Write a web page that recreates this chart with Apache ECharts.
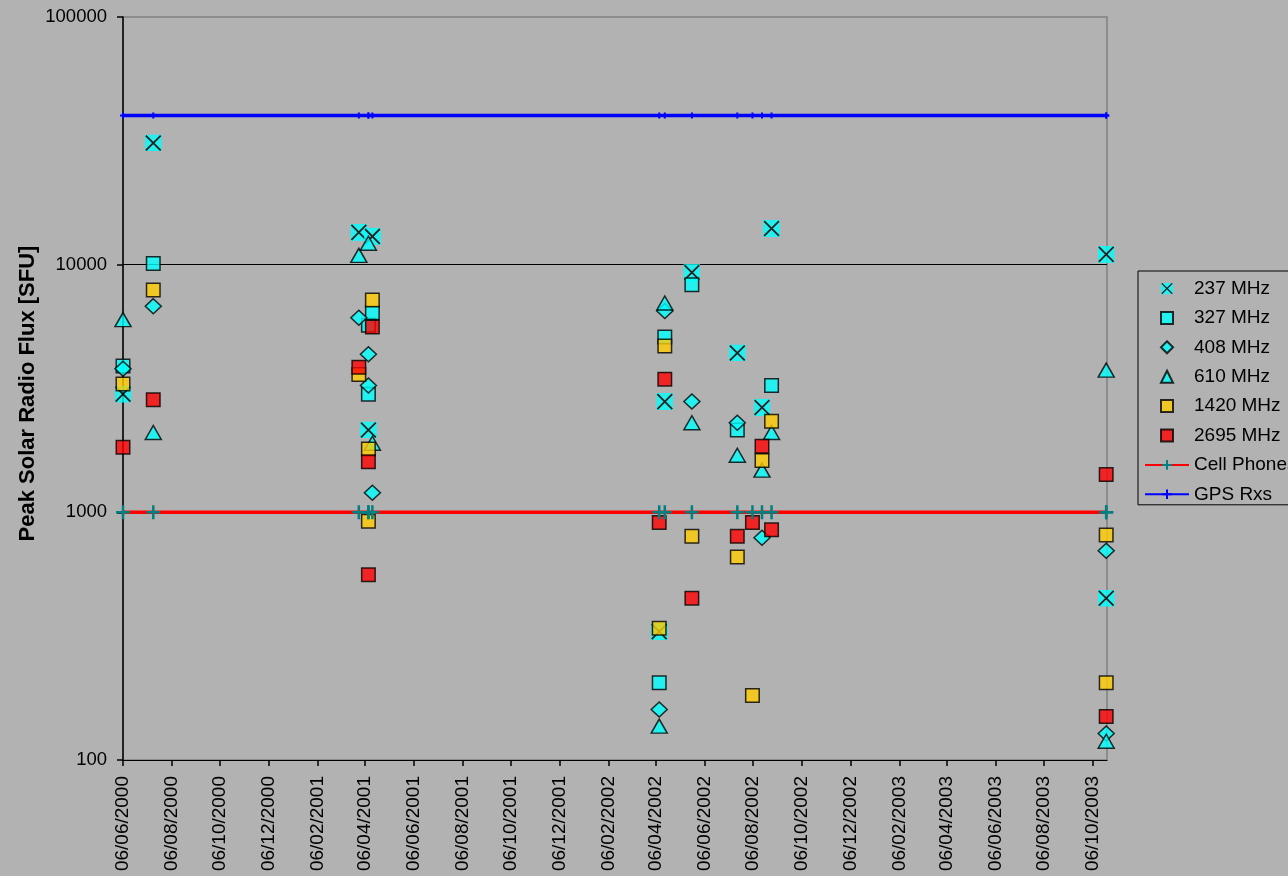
<!DOCTYPE html>
<html><head><meta charset="utf-8">
<script src="https://cdn.jsdelivr.net/npm/echarts@6/dist/echarts.min.js"></script>
<style>html,body{margin:0;padding:0;background:#b2b2b2;}#c{width:1288px;height:876px;}</style>
</head><body><div id="c"></div>
<script>
// ---- data (dd/mm/yyyy) ----
const eventDates = ['06/06/2000','14/07/2000','29/03/2001','10/04/2001','10/04/2001','15/04/2001','10/04/2002','17/04/2002','21/05/2002','17/07/2002','05/08/2002','17/08/2002','29/08/2002','23/10/2003','23/10/2003'];
const mhz237  = [3000, 31000, 13500, 2150, null, 13000, 330, 2800, 9300, 4400, null, 2650, 14000, 11000, 450];
const mhz327  = [3900, 10100, null, 3000, 5700, 6400, 205, 5100, 8300, 2150, null, null, 3250, null, null];
const mhz408  = [3800, 6800, 6100, 3250, 4350, 1200, 160, 6500, 2800, 2300, null, 790, null, 700, 128];
const mhz610  = [6000, 2100, 10900, 12200, null, 1900, 137, 7000, 2300, 1700, null, 1480, 2100, 3750, 119];
const mhz1420 = [3300, 7900, 3600, 1800, 920, 7200, 340, 4700, 800, 660, 182, 1620, 2330, 810, 205];
const mhz2695 = [1830, 2850, 3850, 1600, 560, 5600, 910, 3450, 450, 800, 910, 1850, 850, 1420, 150];
const cellPhones = [1000, 1000, 1000, 1000, 1000, 1000, 1000, 1000, 1000, 1000, 1000, 1000, 1000, 1000, 1000];
const gpsRxs = [40000, 40000, 40000, 40000, 40000, 40000, 40000, 40000, 40000, 40000, 40000, 40000, 40000, 40000, 40000];
const xTickLabels = ['06/06/2000','06/08/2000','06/10/2000','06/12/2000','06/02/2001','06/04/2001','06/06/2001','06/08/2001','06/10/2001','06/12/2001','06/02/2002','06/04/2002','06/06/2002','06/08/2002','06/10/2002','06/12/2002','06/02/2003','06/04/2003','06/06/2003','06/08/2003','06/10/2003'];
const yTickLabels = [100, 1000, 10000, 100000];
const xRange = ['06/06/2000', '24/10/2003'];

// ---- helpers ----
const FONT = '"Liberation Sans", Arial, sans-serif';
const DAY = 86400000;
function parseDate(s) { const p = s.split('/').map(Number); return Date.UTC(p[2], p[1] - 1, p[0]); }
const T0 = parseDate(xRange[0]);
function dayNum(s) { return Math.round((parseDate(s) - T0) / DAY); }
function pad(n) { return (n < 10 ? '0' : '') + n; }
function fmtDay(v) { const d = new Date(T0 + Math.round(v) * DAY); return pad(d.getUTCDate()) + '/' + pad(d.getUTCMonth() + 1) + '/' + d.getUTCFullYear(); }
function pairs(arr) { const out = []; eventDates.forEach((d, i) => { if (arr[i] != null) out.push([dayNum(d), arr[i]]); }); return out; }
const tickDays = xTickLabels.map(dayNum);

const svgX = "<svg xmlns='http://www.w3.org/2000/svg' width='32' height='32' viewBox='0 0 32 32'><rect x='0' y='0' width='32' height='32' fill='#00FFFF'/><path d='M2,2L30,30M30,2L2,30' stroke='#000' stroke-width='3.4'/></svg>";
const imgX = 'image://data:image/svg+xml;charset=utf-8,' + encodeURIComponent(svgX);
const SQ = 'path://M0,0H10V10H0Z';
const DIA = 'path://M5,0L10,5L5,10L0,5Z';
const TRI = 'path://M5,0L10,10L0,10Z';
const PLUS = 'path://M0,-1L0,1M-1,0L1,0';

const border = { borderColor: '#000', borderWidth: 1.5 };
function scatter(name, arr, symbol, size, color, extra) {
  return Object.assign({
    name, type: 'scatter', data: pairs(arr), symbol, symbolSize: size,
    itemStyle: Object.assign({ color }, border), emphasis: { disabled: true }
  }, extra || {});
}

const chart = echarts.init(document.getElementById('c'), null, { renderer: 'canvas' });
chart.setOption({
  animation: false,
  backgroundColor: '#b2b2b2',
  textStyle: { fontFamily: FONT },
  grid: { left: 123, right: 181, top: 17, bottom: 116, show: true, borderColor: '#808080', borderWidth: 1.5, backgroundColor: 'transparent' },
  xAxis: {
    type: 'value', min: 0, max: dayNum(xRange[1]),
    axisLine: { lineStyle: { color: '#000', width: 1 } },
    axisTick: { show: true, length: 6, lineStyle: { color: '#000', width: 1.5 }, customValues: tickDays },
    axisLabel: { rotate: 90, margin: 16, fontSize: 19, color: '#000', fontFamily: FONT,
      customValues: tickDays, formatter: v => fmtDay(v), hideOverlap: false },
    splitLine: { show: false }
  },
  yAxis: {
    type: 'log', logBase: 10, min: yTickLabels[0], max: yTickLabels[yTickLabels.length - 1],
    name: 'Peak Solar Radio Flux [SFU]', nameLocation: 'middle', nameGap: 84, nameRotate: 90,
    nameMoveOverlap: false,
    nameTextStyle: { fontWeight: 'bold', fontSize: 22, color: '#000', fontFamily: FONT, padding: [0, 10, 0, 0] },
    axisLine: { show: true, lineStyle: { color: '#000', width: 1.5 } },
    axisTick: { show: true, length: 6, lineStyle: { color: '#000', width: 1.5 } },
    axisLabel: { margin: 16, fontSize: 18.5, color: '#000', fontFamily: FONT, formatter: v => String(Math.round(v)) },
    splitLine: { show: true, showMinLine: false, showMaxLine: false, lineStyle: { color: '#000', width: 1 } },
    minorTick: { show: false }
  },
  legend: {
    orient: 'vertical', left: 1138, top: 271, padding: [8, 6, 1, 6],
    borderColor: '#000', borderWidth: 1, backgroundColor: 'transparent',
    itemWidth: 44, itemHeight: 12, itemGap: 10.4, selectedMode: false,
    textStyle: { fontSize: 19, color: '#000', fontFamily: FONT, lineHeight: 19 },
    data: [
      { name: '237 MHz', icon: imgX },
      { name: '327 MHz', icon: SQ },
      { name: '408 MHz', icon: DIA },
      { name: '610 MHz', icon: TRI },
      { name: '1420 MHz', icon: SQ },
      { name: '2695 MHz', icon: SQ },
      { name: 'Cell Phones' },
      { name: 'GPS Rxs' }
    ]
  },
  series: [
    scatter('237 MHz', mhz237, imgX, 17, '#00FFFF', { itemStyle: { color: '#00FFFF' } }),
    scatter('327 MHz', mhz327, 'rect', 13.5, '#00FFFF'),
    scatter('408 MHz', mhz408, 'diamond', [16, 15], '#00FFFF'),
    scatter('610 MHz', mhz610, 'triangle', [16, 14], '#00FFFF'),
    scatter('1420 MHz', mhz1420, 'rect', 13.5, '#FFCC00'),
    scatter('2695 MHz', mhz2695, 'rect', 13.5, '#FF0000'),
    {
      name: 'Cell Phones', type: 'line', data: pairs(cellPhones),
      symbol: PLUS, symbolSize: 14, showSymbol: true,
      lineStyle: { color: '#FF0000', width: 3.5 },
      itemStyle: { color: '#008080', borderColor: '#008080', borderWidth: 2.5 },
      emphasis: { disabled: true }
    },
    {
      name: 'GPS Rxs', type: 'line', data: pairs(gpsRxs),
      symbol: PLUS, symbolSize: 6, showSymbol: true,
      lineStyle: { color: '#0000FF', width: 3.5 },
      itemStyle: { color: '#0000FF', borderColor: '#0000FF', borderWidth: 2 },
      emphasis: { disabled: true }
    }
  ]
});
</script></body></html>
